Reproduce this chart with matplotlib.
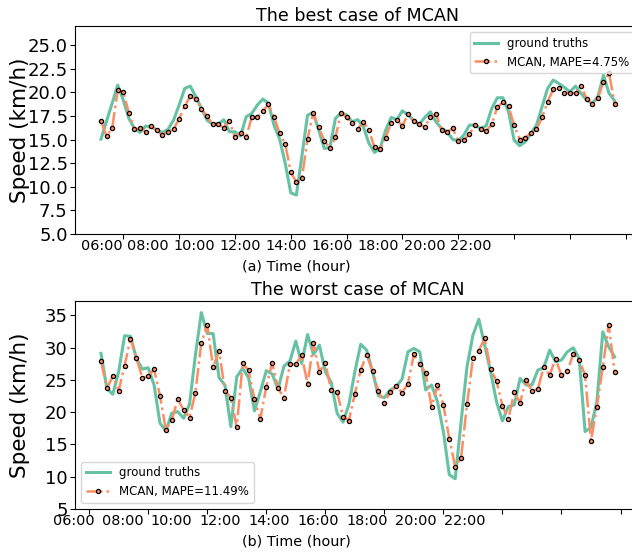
import matplotlib
matplotlib.use("Agg")
import matplotlib.pyplot as plt
import numpy as np
from matplotlib.ticker import MultipleLocator, NullFormatter

time_labels = ['06:00', '08:00', '10:00', '12:00', '14:00', '16:00', '18:00', '20:00', '22:00']

# best case (speed, km/h)
best_truth = [15.04, 16.95, 18.82, 20.76, 19.17, 17.23, 16.17, 15.75, 16.42, 16.35,
              16.0, 15.75, 16.07, 17.05, 18.64, 20.4, 20.65, 19.52, 18.3, 17.05,
              16.6, 16.6, 17.1, 15.82, 15.82, 15.36, 17.4, 17.76, 18.64, 19.28,
              18.82, 16.5, 15.05, 12.5, 9.36, 9.12, 13.3, 17.58, 17.83, 16.0,
              14.06, 14.16, 17.23, 17.83, 17.6, 16.87, 17.1, 16.35, 14.59, 13.63,
              14.06, 16.0, 17.34, 17.1, 18.04, 17.6, 17.05, 16.6, 17.34, 17.93,
              16.87, 16.17, 15.82, 15.01, 14.86, 15.47, 16.52, 16.52, 16.17, 16.45,
              18.29, 19.42, 19.42, 17.93, 14.94, 14.34, 14.76, 15.64, 16.52, 18.46,
              20.4, 21.29, 20.93, 20.51, 20.05, 20.65, 19.87, 19.17, 18.82, 19.52,
              21.81, 19.9, 19.1]
best_pred = [17.0, 15.36, 16.17, 20.23, 20.0, 17.83, 16.07, 16.17, 15.82, 16.45,
             15.96, 15.47, 15.82, 16.1, 17.19, 18.53, 19.59, 19.28, 18.25, 17.44,
             16.6, 16.63, 16.24, 16.98, 15.25, 15.71, 15.22, 17.37, 17.37, 18.0,
             18.71, 17.4, 15.64, 14.51, 11.55, 10.49, 10.95, 15.04, 17.83, 16.28,
             14.86, 14.06, 15.22, 17.83, 17.34, 16.7, 16.1, 16.87, 16.0, 14.16,
             13.98, 15.19, 16.8, 17.05, 16.45, 17.72, 16.95, 16.6, 16.35, 17.34,
             17.72, 16.03, 15.82, 16.17, 14.86, 14.94, 15.6, 16.49, 16.1, 15.89,
             16.6, 18.46, 18.92, 18.5, 16.52, 15.0, 15.19, 15.68, 16.07, 17.33,
             18.99, 20.3, 20.4, 19.91, 19.91, 19.91, 20.65, 19.31, 18.78, 19.38,
             21.07, 22.06, 18.78]

# worst case (speed, km/h)
worst_truth = [29.1, 23.68, 22.76, 26.25, 31.81, 31.76, 28.31, 26.67, 26.87, 24.2,
               18.28, 17.1, 19.83, 20.08, 19.05, 21.21, 28.83, 35.41, 32.17, 32.17,
               25.33, 24.2, 17.77, 25.48, 26.77, 25.33, 20.19, 23.17, 26.41, 25.9,
               23.58, 27.13, 27.9, 30.99, 27.54, 32.02, 28.93, 30.37, 26.25, 24.61,
               19.83, 18.44, 21.21, 26.25, 30.52, 29.6, 26.25, 22.55, 22.24, 23.43,
               23.94, 25.12, 29.34, 29.86, 29.34, 23.43, 24.2, 21.62, 16.99, 10.31,
               9.69, 18.5, 27.03, 31.91, 34.38, 30.37, 26.25, 21.62, 18.64, 20.85,
               21.11, 25.23, 24.2, 24.2, 26.51, 26.87, 29.6, 27.8, 28.06, 29.34,
               29.95, 28.31, 16.99, 17.61, 21.62, 32.43, 30.11, 28.57]
worst_pred = [27.95, 23.68, 25.53, 23.32, 27.18, 31.4, 28.41, 25.33, 25.57, 26.62,
              22.55, 17.22, 18.8, 21.99, 20.34, 19.15, 23.01, 30.78, 33.46, 26.93,
              29.5, 23.32, 22.24, 17.64, 27.54, 26.46, 21.99, 18.95, 23.94, 27.64,
              23.68, 22.24, 27.39, 27.44, 28.78, 24.4, 30.68, 26.25, 27.59, 23.37,
              23.07, 19.31, 18.69, 22.86, 26.56, 28.88, 26.36, 23.22, 21.47, 23.07,
              24.04, 23.02, 24.4, 28.93, 27.39, 26.05, 20.8, 24.14, 21.11, 15.91,
              11.54, 12.93, 21.21, 28.31, 29.5, 31.45, 26.67, 24.81, 21.0, 18.9,
              23.07, 21.47, 25.02, 23.27, 23.58, 26.98, 25.74, 28.26, 25.69, 26.31,
              29.03, 28.1, 25.69, 15.6, 20.75, 26.98, 33.56, 26.25]

best_x = np.arange(6, 6 + len(best_truth))
worst_x = np.arange(2, 2 + len(worst_truth))

truth_color = '#66c2a5'
pred_color = '#fc8d62'

# axes spans 75 px .. 640 px of the figure width
AX_LEFT, AX_W = 75.3, 565.1


def draw_case(ax, x, truth, pred, mape, title, xlabel, strip_start, strip_step,
              ylim, ystep, yfmt, legend_loc):
    ax.plot(x, truth, color=truth_color, lw=2.2, label='ground truths')
    ax.plot(x, pred, color=pred_color, lw=1.8, ls='-.', marker='o', ms=3,
            mfc=pred_color, mec='black', mew=0.9, label='MCAN, MAPE=' + mape)
    ax.set_ylim(ylim)
    ax.yaxis.set_major_locator(MultipleLocator(ystep))
    ax.yaxis.set_major_formatter(yfmt)
    ax.xaxis.set_major_locator(MultipleLocator(10))
    ax.xaxis.set_major_formatter(NullFormatter())
    ax.tick_params(axis='y', labelsize=13, pad=2)
    ax.set_title(title, fontsize=12.6, pad=4)
    ax.set_ylabel('Speed (km/h)', fontsize=15.5)
    ax.yaxis.set_label_coords(-0.08, 0.5)
    # time strip under the axis, not aligned with the tick marks
    for i, lab in enumerate(time_labels):
        px = strip_start + i * strip_step
        ax.text((px - AX_LEFT) / AX_W, -0.058, lab, transform=ax.transAxes,
                ha='center', va='center', fontsize=10.4)
    ax.set_xlabel(xlabel, fontsize=10.4, va='center')
    ax.xaxis.set_label_coords(0.3906, -0.154)
    ax.legend(loc=legend_loc, fontsize=8.5)


fig = plt.figure(figsize=(6.32, 5.53), dpi=100)
ax1 = fig.add_axes([0.1191, 0.5768, 0.894, 0.376])
ax2 = fig.add_axes([0.1191, 0.0796, 0.894, 0.376])

draw_case(ax1, best_x, best_truth, best_pred, '4.75%', 'The best case of MCAN',
          '(a) Time (hour)', 102, 46.1, (5, 27), 2.5, '{x:.1f}', 'upper right')
draw_case(ax2, worst_x, worst_truth, worst_pred, '11.49%', 'The worst case of MCAN',
          '(b) Time (hour)', 74, 48.8, (5, 37.2), 5, '{x:.0f}', 'lower left')

fig.savefig('out.png', dpi=100)
